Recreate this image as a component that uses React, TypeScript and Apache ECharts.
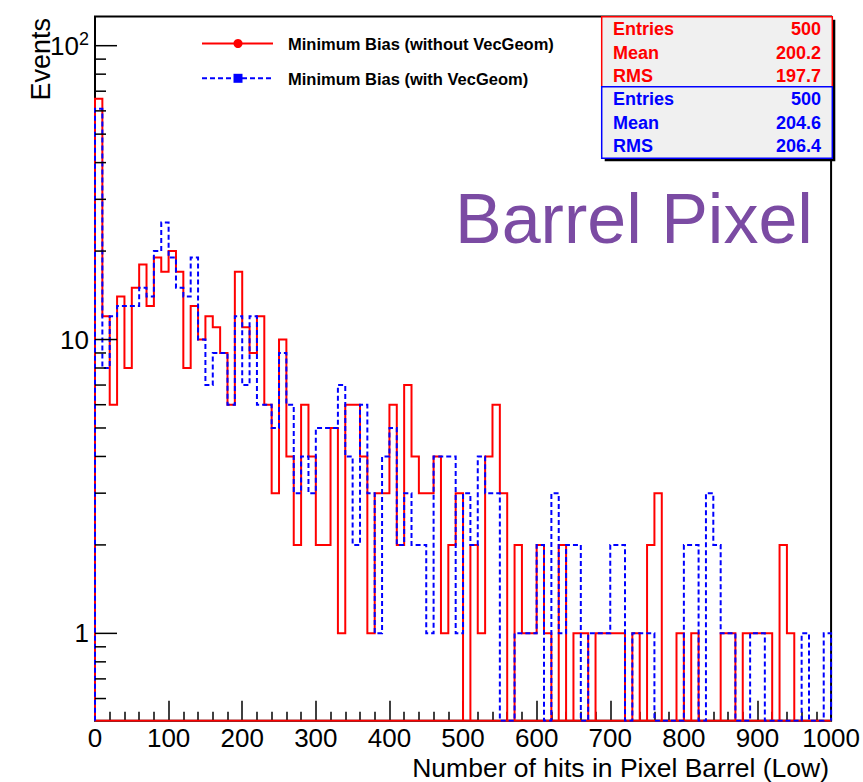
import React, { useEffect, useRef } from 'react';
import * as echarts from 'echarts';

// Histogram binning (100 bins of width 10 between 0 and 1000)
const X_MIN = 0;
const X_MAX = 1000;
const BIN_WIDTH = 10;

// Log-scale vertical range of the frame
const Y_MIN = 0.5044;
const Y_MAX = 125.7;

// Bin contents, Minimum Bias without VecGeom
const withoutVecGeom = [
  66, 12, 6, 14, 8, 15, 18, 13, 19, 17,
  20, 17, 8, 13, 10, 12, 11, 9, 6, 17,
  11, 9, 12, 6, 3, 10, 4, 2, 6, 4,
  2, 2, 5, 1, 6, 6, 4, 1, 3, 3,
  6, 2, 7, 4, 3, 3, 4, 1, 2, 3,
  0, 2, 1, 4, 6, 3, 0, 2, 1, 1,
  2, 1, 0, 2, 0, 1, 1, 0, 1, 1,
  1, 1, 0, 1, 0, 2, 3, 0, 0, 1,
  0, 1, 0, 0, 0, 1, 1, 0, 1, 1,
  1, 1, 0, 2, 1, 0, 0, 0, 0, 0,
];

// Bin contents, Minimum Bias with VecGeom
const withVecGeom = [
  61, 8, 12, 13, 13, 13, 15, 14, 20, 25,
  19, 15, 14, 19, 10, 7, 9, 9, 6, 12,
  7, 12, 6, 6, 5, 9, 6, 3, 4, 3,
  5, 5, 5, 7, 4, 2, 6, 3, 1, 4,
  5, 2, 3, 2, 2, 1, 4, 4, 4, 1,
  3, 2, 4, 3, 3, 0, 0, 1, 1, 1,
  2, 0, 3, 1, 2, 2, 0, 1, 1, 1,
  2, 2, 0, 1, 1, 1, 0, 0, 0, 0,
  2, 2, 0, 3, 2, 1, 1, 0, 0, 1,
  1, 0, 0, 0, 0, 0, 1, 0, 0, 1,
];

const statsWithout = [
  ['Entries', '500'],
  ['Mean', '200.2'],
  ['RMS', '197.7'],
];
const statsWith = [
  ['Entries', '500'],
  ['Mean', '204.6'],
  ['RMS', '206.4'],
];

const legendLabels = ['Minimum Bias (without VecGeom)', 'Minimum Bias (with VecGeom)'];
const xTitle = 'Number of hits in Pixel Barrel (Low)';
const yTitle = 'Events';
const panelLabel = 'Barrel Pixel';

const xTickInterval = 100;
const yMajorTicks = [1, 10, 100];
const yMinorTicks = [0.6, 0.7, 0.8, 0.9, 2, 3, 4, 5, 6, 7, 8, 9, 20, 30, 40, 50, 60, 70, 80, 90];

const FONT = '"Liberation Sans", Arial, Helvetica, sans-serif';
const RED = '#ff0000';
const BLUE = '#0000ff';

// Outline of a histogram as a step polyline; empty bins drop to the frame floor.
function stepOutline(counts: number[], closeAlongFloor: boolean): [number, number][] {
  const pts: [number, number][] = [[X_MIN, Y_MIN]];
  counts.forEach((c, i) => {
    const lo = X_MIN + i * BIN_WIDTH;
    const hi = lo + BIN_WIDTH;
    const y = c > 0 ? c : Y_MIN;
    pts.push([lo, y], [hi, y]);
  });
  pts.push([X_MAX, Y_MIN]);
  if (closeAlongFloor) pts.push([X_MIN, Y_MIN]);
  return pts;
}

// One statistics panel: filled frame plus name/value rows.
function statsBox(rows: string[][], top: number, height: number, color: string, z: number) {
  const left = 601.7;
  const width = 230.6;
  const els: any[] = [
    {
      type: 'rect',
      z,
      shape: { x: left, y: top, width, height },
      style: { fill: '#f0f0f0', stroke: color, lineWidth: 1.5 },
    },
  ];
  rows.forEach((r, i) => {
    const cy = top + 12.6 + i * 23.4;
    els.push(
      {
        type: 'text',
        z: z + 1,
        x: 613,
        y: cy,
        style: { text: r[0], fill: color, font: `bold 18px ${FONT}`, align: 'left', verticalAlign: 'middle' },
      },
      {
        type: 'text',
        z: z + 1,
        x: 821,
        y: cy,
        style: { text: r[1], fill: color, font: `bold 18px ${FONT}`, align: 'right', verticalAlign: 'middle' },
      }
    );
  });
  return els;
}

export default function App() {
  const ref = useRef<HTMLDivElement>(null);

  useEffect(() => {
    if (!ref.current) return;
    const chart = echarts.init(ref.current, undefined, { renderer: 'svg' });

    const tickData = [
      ...yMajorTicks.map((v) => [X_MIN, v, 1]),
      ...yMinorTicks.map((v) => [X_MIN, v, 0]),
    ];

    const option: any = {
      animation: false,
      backgroundColor: '#ffffff',
      textStyle: { fontFamily: FONT },
      grid: {
        left: 95,
        right: 31,
        top: 16.5,
        bottom: 61.3,
        show: true,
        borderColor: '#000',
        borderWidth: 2,
        backgroundColor: 'transparent',
        containLabel: false,
      },
      xAxis: {
        type: 'value',
        min: X_MIN,
        max: X_MAX,
        interval: xTickInterval,
        axisLine: { show: false },
        axisTick: { show: true, inside: true, length: 20, lineStyle: { color: '#000', width: 1.5 } },
        minorTick: { show: true, splitNumber: 5, length: 9, lineStyle: { color: '#000', width: 1.5 } },
        splitLine: { show: false },
        minorSplitLine: { show: false },
        axisLabel: {
          fontSize: 26,
          lineHeight: 26,
          color: '#000',
          margin: 4,
          fontFamily: FONT,
          showMinLabel: true,
          showMaxLabel: true,
          hideOverlap: false,
          formatter: (v: number) => String(v),
        },
      },
      yAxis: {
        type: 'log',
        logBase: 10,
        min: Y_MIN,
        max: Y_MAX,
        axisLine: { show: false },
        axisTick: { show: false },
        splitLine: { show: false },
        minorTick: { show: false },
        axisLabel: {
          color: '#000',
          margin: 6,
          fontSize: 26,
          fontFamily: FONT,
          showMinLabel: true,
          showMaxLabel: true,
          formatter: (v: number) => {
            const l = Math.log10(v);
            const r = Math.round(l);
            if (Math.abs(l - r) > 1e-6) return '';
            if (r === 0) return '{a|1}';
            if (r === 1) return '{a|10}';
            return `{a|10}{s|${r}}`;
          },
          rich: {
            a: { fontSize: 26, fontFamily: FONT, color: '#000' },
            s: { fontSize: 18, fontFamily: FONT, color: '#000', verticalAlign: 'top', padding: [0, 0, 14, 0] },
          },
        },
      },
      series: [
        {
          name: legendLabels[0],
          type: 'line',
          data: stepOutline(withoutVecGeom, true),
          symbol: 'none',
          clip: true,
          lineStyle: { color: RED, width: 2, join: 'miter' },
          z: 3,
        },
        {
          name: legendLabels[1],
          type: 'line',
          data: stepOutline(withVecGeom, false),
          symbol: 'none',
          clip: true,
          lineStyle: { color: BLUE, width: 2, type: [5, 3], join: 'miter' },
          z: 4,
        },
        {
          type: 'custom',
          coordinateSystem: 'cartesian2d',
          silent: true,
          clip: false,
          encode: { x: 0, y: 1 },
          data: tickData,
          renderItem: (params: any, api: any) => {
            const p = api.coord([api.value(0), api.value(1)]);
            const len = api.value(2) ? 22 : 11;
            return {
              type: 'line',
              shape: { x1: p[0], y1: p[1], x2: p[0] + len, y2: p[1] },
              style: { stroke: '#000', lineWidth: 1.5 },
            };
          },
          z: 5,
        },
      ],
      graphic: [
        // legend
        { type: 'line', z: 10, shape: { x1: 202, y1: 43.5, x2: 273, y2: 43.5 }, style: { stroke: RED, lineWidth: 2 } },
        { type: 'circle', z: 11, shape: { cx: 238, cy: 43.5, r: 4.5 }, style: { fill: RED } },
        {
          type: 'text',
          z: 10,
          x: 288,
          y: 44,
          style: { text: legendLabels[0], font: `bold 16.5px ${FONT}`, fill: '#000', verticalAlign: 'middle' },
        },
        {
          type: 'line',
          z: 10,
          shape: { x1: 202, y1: 78.3, x2: 273, y2: 78.3 },
          style: { stroke: BLUE, lineWidth: 2, lineDash: [5, 3] },
        },
        { type: 'rect', z: 11, shape: { x: 233.5, y: 73.8, width: 9, height: 9 }, style: { fill: BLUE } },
        {
          type: 'text',
          z: 10,
          x: 288,
          y: 78.5,
          style: { text: legendLabels[1], font: `bold 16.5px ${FONT}`, fill: '#000', verticalAlign: 'middle' },
        },
        // statistics boxes with drop shadow
        { type: 'rect', z: 20, shape: { x: 604.7, y: 19.7, width: 230.6, height: 141.6 }, style: { fill: '#000' } },
        ...statsBox(statsWithout, 16.7, 70, RED, 21),
        ...statsBox(statsWith, 86.7, 71.6, BLUE, 23),
        // panel label
        {
          type: 'text',
          z: 10,
          x: 455,
          y: 219,
          style: { text: panelLabel, font: `70px ${FONT}`, fill: '#7b4ba3', verticalAlign: 'middle' },
        },
        // axis titles
        {
          type: 'text',
          z: 10,
          x: 829,
          y: 767.5,
          style: {
            text: xTitle,
            font: `26.5px ${FONT}`,
            lineHeight: 24,
            fill: '#000',
            align: 'right',
            verticalAlign: 'middle',
          },
        },
        {
          type: 'text',
          z: 10,
          x: 41,
          y: 18,
          rotation: Math.PI / 2,
          style: { text: yTitle, font: `27px ${FONT}`, fill: '#000', align: 'right', verticalAlign: 'middle' },
        },
      ],
    };

    chart.setOption(option);
    return () => chart.dispose();
  }, []);

  return (
    <div
      ref={ref}
      style={{ position: 'fixed', left: 0, top: 0, width: 863, height: 782, background: '#fff' }}
    />
  );
}
